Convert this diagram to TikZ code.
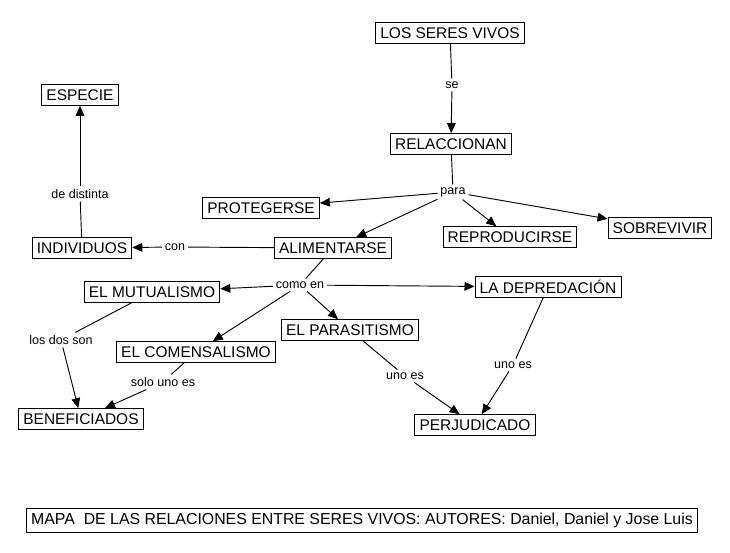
\documentclass[tikz,border=0pt]{standalone}
\usepackage{fontspec}
\setmainfont{Liberation Sans}
\usetikzlibrary{arrows.meta}
\tikzset{
  concept/.style={draw, line width=0.75pt, fill=white, inner xsep=3.5pt, inner ysep=0pt,
    minimum height=15.5pt, font=\fontsize{11.6}{13}\selectfont},
  linkword/.style={fill=white, inner sep=2pt, font=\fontsize{9.4}{10}\selectfont},
  link/.style={line width=0.7pt},
  linkto/.style={line width=0.7pt, -{Triangle[length=7.5pt,width=6.5pt]}}
}
\begin{document}
\begin{tikzpicture}[x=0.75pt,y=-0.75pt]
    \useasboundingbox (0,0) rectangle (730,552);

    \node[concept] (seres) at (450,33) {LOS SERES VIVOS};
    \node[concept] (relac) at (451,144) {RELACCIONAN};
    \node[concept] (protege) at (261,208) {PROTEGERSE};
    \node[concept] (alimenta) at (333,248) {ALIMENTARSE};
    \node[concept] (reproduce) at (510,237) {REPRODUCIRSE};
    \node[concept] (sobrevive) at (660,228) {SOBREVIVIR};
    \node[concept] (individuos) at (82,248) {INDIVIDUOS};
    \node[concept] (especie) at (80,95) {ESPECIE};
    \node[concept] (mutual) at (152,292) {EL MUTUALISMO};
    \node[concept] (comensal) at (196,352) {EL COMENSALISMO};
    \node[concept] (parasit) at (350,330) {EL PARASITISMO};
    \node[concept] (depreda) at (548,287) {LA DEPREDACIÓN};
    \node[concept] (benef) at (81,419) {BENEFICIADOS};
    \node[concept] (perjud) at (475,425) {PERJUDICADO};
    \node[concept, minimum width=502pt, minimum height=18pt, font=\fontsize{11.9}{13}\selectfont] (titulo) at (362,520)
        {MAPA\ \ DE LAS RELACIONES ENTRE SERES VIVOS: AUTORES: Daniel, Daniel y Jose Luis};

    \node[linkword] (se) at (452,85) {se};
    \node[linkword] (para) at (453,192) {para};
    \node[linkword] (con) at (175,247) {con};
    \node[linkword] (distinta) at (80,194) {de distinta};
    \node[linkword] (comoen) at (300,285) {como en};
    \node[linkword] (losdos) at (61,340) {los dos son};
    \node[linkword] (solouno) at (163,382) {solo uno es};
    \node[linkword] (unoesA) at (405,376) {uno es};
    \node[linkword] (unoesB) at (513,365) {uno es};

    \draw[link] (seres) -- (se);
    \draw[linkto] (se) -- (relac);
    \draw[link] (relac) -- (para);
    \draw[linkto] (para) -- (protege);
    \draw[linkto] (para) -- (alimenta);
    \draw[linkto] (para) -- (reproduce);
    \draw[linkto] (para) -- (sobrevive);
    \draw[link] (alimenta) -- (con);
    \draw[linkto] (con) -- (individuos);
    \draw[link] (individuos) -- (distinta);
    \draw[linkto] (distinta) -- (especie);
    \draw[link] (alimenta) -- (comoen);
    \draw[linkto] (comoen) -- (mutual);
    \draw[linkto] (comoen) -- (comensal);
    \draw[linkto] (comoen) -- (parasit);
    \draw[linkto] (comoen) -- (depreda);
    \draw[link] (mutual) -- (losdos);
    \draw[linkto] (losdos) -- (benef);
    \draw[link] (comensal) -- (solouno);
    \draw[linkto] (solouno) -- (benef);
    \draw[link] (parasit) -- (unoesA);
    \draw[linkto] (unoesA) -- (perjud);
    \draw[link] (depreda) -- (unoesB);
    \draw[linkto] (unoesB) -- (perjud);
\end{tikzpicture}
\end{document}
